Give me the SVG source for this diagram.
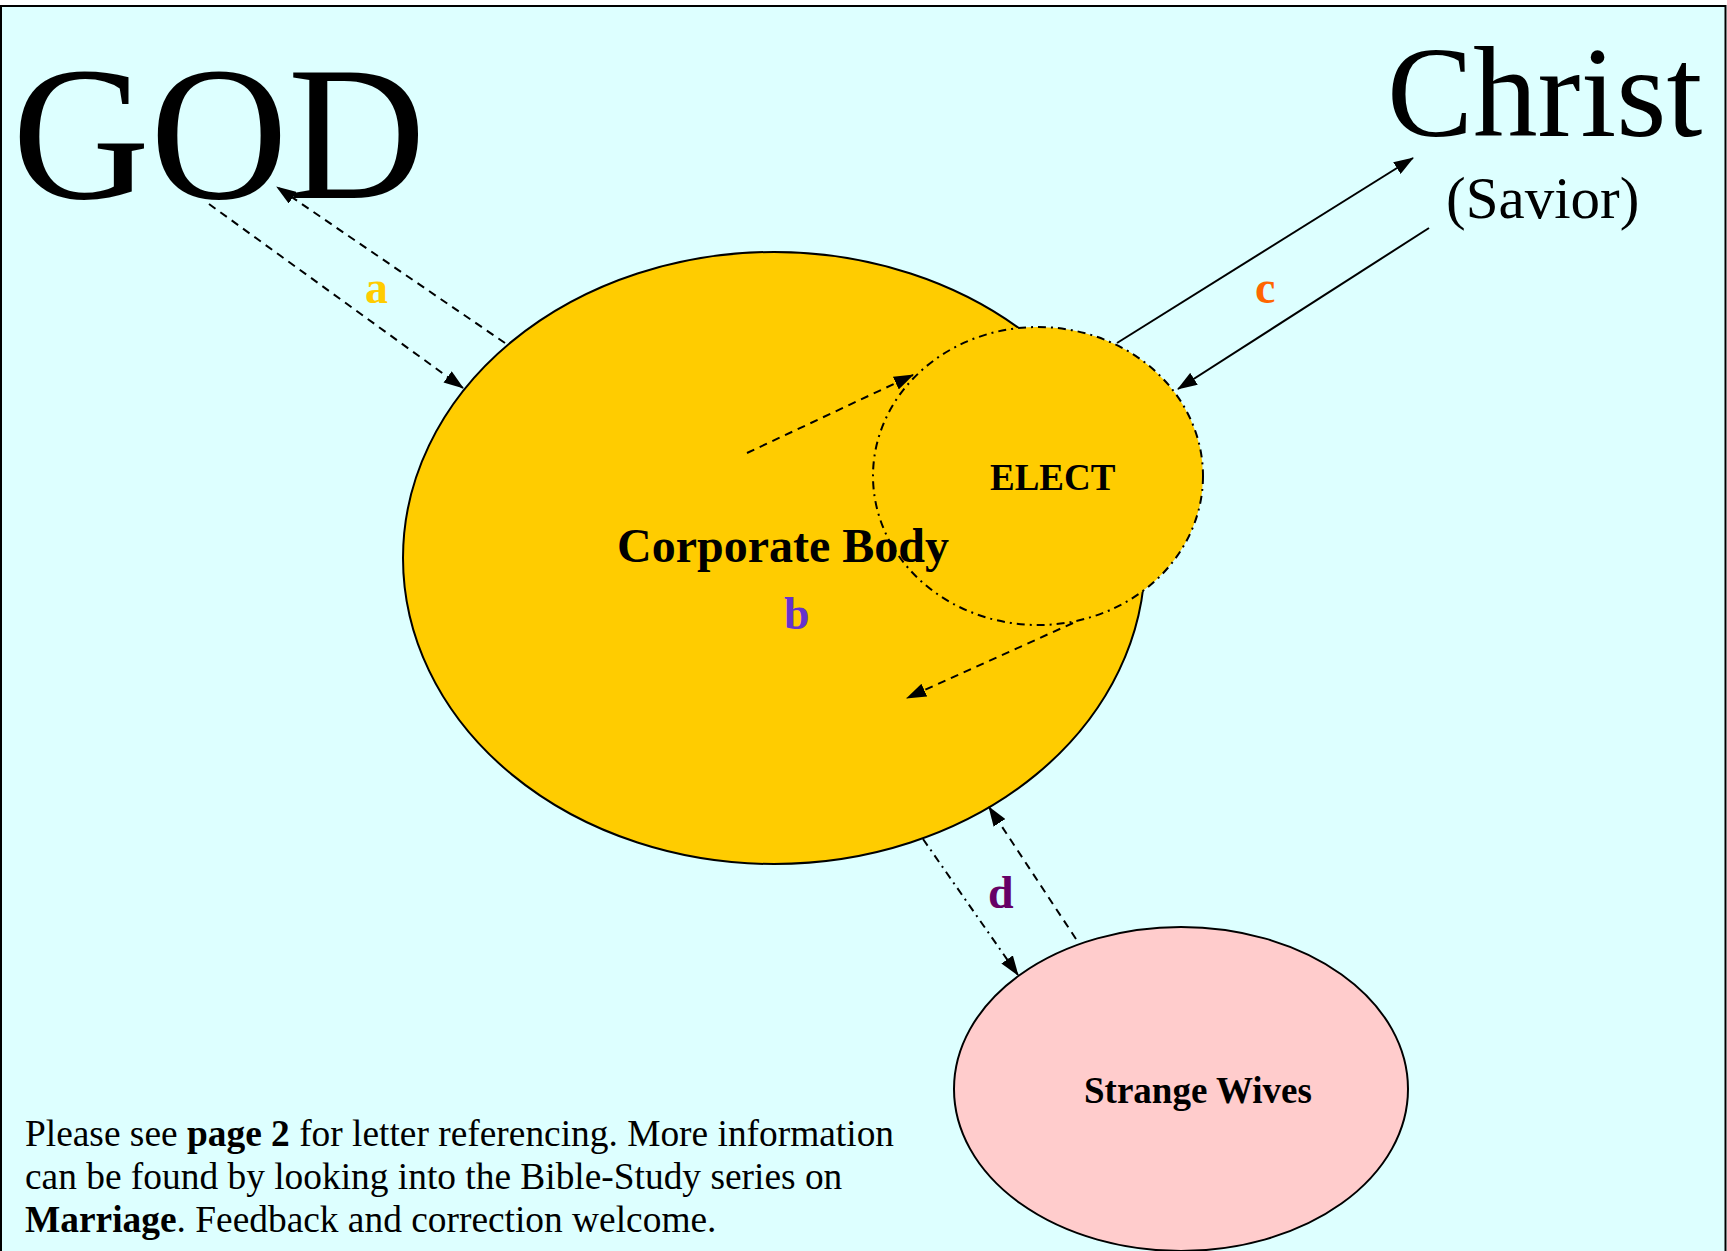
<svg xmlns="http://www.w3.org/2000/svg" width="1727" height="1251" viewBox="0 0 1727 1251">
<defs>
<marker id="arr" markerUnits="userSpaceOnUse" markerWidth="20" markerHeight="14" refX="19" refY="7" orient="auto">
<path d="M0,0 L20,7 L0,14 z" fill="#000"/>
</marker>
<style>
.serif{font-family:"Liberation Serif","Times New Roman",serif;}
.bold{font-weight:bold;}
.dash{fill:none;stroke:#000;stroke-width:2;stroke-dasharray:8 6;}
.dashdot{fill:none;stroke:#000;stroke-width:2;stroke-dasharray:8 5 2 5;}
.solid{fill:none;stroke:#000;stroke-width:2;}
</style>
</defs>
<rect x="0" y="0" width="1727" height="1251" fill="#fff"/>
<rect x="1" y="6" width="1724.5" height="1250" fill="#DDFFFF" stroke="#000" stroke-width="2"/>

<g id="god"><text class="serif" x="12" y="198" font-size="191">GOD</text></g>
<g id="christ">
<text class="serif" x="1387" y="136" font-size="129">Christ</text>
<text class="serif" x="1446" y="218" font-size="59">(Savior)</text>
</g>

<g id="corporate-body">
<ellipse cx="774" cy="558" rx="371" ry="306" fill="#FFCC00" stroke="#000" stroke-width="2"/>
</g>
<g id="elect">
<ellipse cx="1038" cy="476" rx="165" ry="149" fill="#FFCC00" stroke="#000" stroke-width="2" stroke-dasharray="8 5 2 5"/>
<text class="serif bold" x="990" y="490" font-size="37">ELECT</text>
</g>
<g id="corporate-body-label">
<text class="serif bold" x="617" y="562" font-size="48">Corporate Body</text>
<text class="serif bold" x="784" y="629" font-size="46" fill="#6633CC">b</text>
</g>
<g id="strange-wives">
<ellipse cx="1181" cy="1089" rx="227" ry="162" fill="#FFCCCC" stroke="#000" stroke-width="2"/>
<text class="serif bold" x="1084" y="1103" font-size="37">Strange Wives</text>
</g>

<g id="connectors">
<line class="dash" x1="209" y1="204" x2="463" y2="388" marker-end="url(#arr)"/>
<line class="dash" x1="505" y1="343" x2="277" y2="187" marker-end="url(#arr)"/>
<line class="solid" x1="1117" y1="343" x2="1413" y2="158" marker-end="url(#arr)"/>
<line class="solid" x1="1429" y1="228" x2="1178" y2="389" marker-end="url(#arr)"/>
<line class="dash" x1="747" y1="453" x2="913" y2="375" marker-end="url(#arr)"/>
<line class="dash" x1="1073" y1="623" x2="907" y2="698" marker-end="url(#arr)"/>
<line class="dashdot" x1="923" y1="839" x2="1018" y2="975" marker-end="url(#arr)"/>
<line class="dash" x1="1076" y1="939" x2="989" y2="807" marker-end="url(#arr)"/>
</g>

<g id="labels">
<text class="serif bold" x="365" y="303" font-size="46" fill="#FFCC00">a</text>
<text class="serif bold" x="1255" y="303" font-size="46" fill="#FF6600">c</text>
<text class="serif bold" x="988" y="908" font-size="46" fill="#660066">d</text>
</g>

<g id="note" class="serif" font-size="37.4">
<text x="25" y="1146">Please see <tspan class="bold">page 2</tspan> for letter referencing. More information</text>
<text x="25" y="1189">can be found by looking into the Bible-Study series on</text>
<text x="25" y="1232"><tspan class="bold">Marriage</tspan>. Feedback and correction welcome.</text>
</g>
</svg>
